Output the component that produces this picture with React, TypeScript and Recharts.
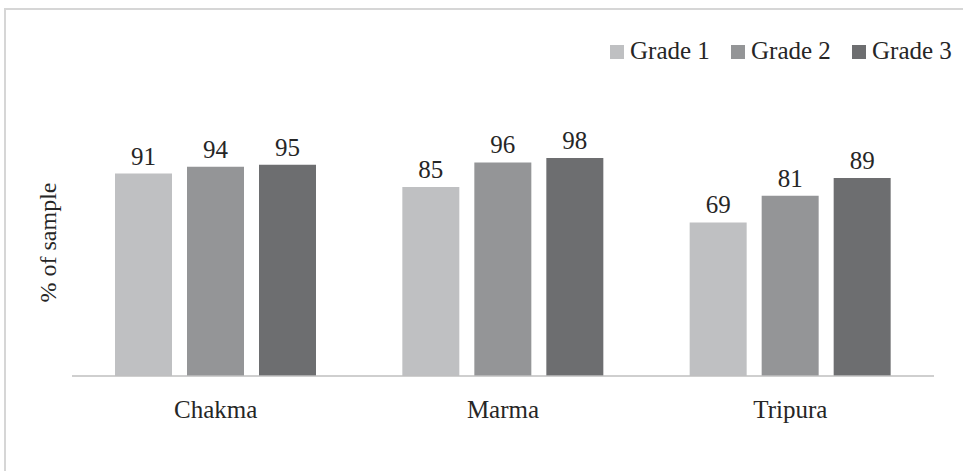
import React from 'react';
import { BarChart, Bar, XAxis, YAxis, Legend, LabelList } from 'recharts';

// Share of sample by ethnic group and grade
const groups = ['Chakma', 'Marma', 'Tripura'];
const grade1 = [91, 85, 69];
const grade2 = [94, 96, 81];
const grade3 = [95, 98, 89];
const seriesNames = ['Grade 1', 'Grade 2', 'Grade 3'];
const seriesColors = ['#bfc0c2', '#949597', '#6d6e70'];

const data = groups.map((g, i) => ({
  group: g,
  g1: grade1[i],
  g2: grade2[i],
  g3: grade3[i],
}));
const seriesKeys = ['g1', 'g2', 'g3'];

const FONT = "'Liberation Serif', 'Times New Roman', Tinos, 'DejaVu Serif', serif";
const TEXT = '#262626';

function LegendRow(props: any) {
  const payload = props.payload || [];
  return (
    <svg width={363} height={40} style={{ display: 'block', fontFamily: FONT }}>
      {payload.map((p: any, i: number) => {
        const x0 = 10 + i * 121;
        return (
          <g key={p.value}>
            <rect x={x0} y={15} width={14} height={14} fill={p.color} />
            <text x={x0 + 20} y={29} style={{ fontFamily: FONT }} fontSize={25} fill={TEXT}>
              {p.value}
            </text>
          </g>
        );
      })}
    </svg>
  );
}

function YTitle(props: any) {
  const vb = props.viewBox || { x: 0, y: 0, width: 0, height: 0 };
  const cx = 56;
  const cy = vb.y + vb.height / 2;
  return (
    <text
      x={cx}
      y={cy}
      transform={`rotate(-90 ${cx} ${cy})`}
      textAnchor="middle"
      style={{ fontFamily: FONT }}
      fontSize={24}
      fill={TEXT}
    >
      % of sample
    </text>
  );
}

export default function App() {
  return (
    <div
      style={{
        position: 'absolute',
        left: 0,
        top: 0,
        width: 963,
        height: 471,
        overflow: 'hidden',
        background: '#fff',
        fontFamily: FONT,
      }}
    >
      <div
        style={{
          position: 'absolute',
          left: 4,
          top: 8,
          width: 1000,
          height: 600,
          borderTop: '2px solid #d6d6d6',
          borderLeft: '2px solid #d6d6d6',
        }}
      />
      <div style={{ position: 'absolute', left: 0, top: 0, fontFamily: FONT }}>
        <BarChart
          width={963}
          height={471}
          data={data}
          margin={{ top: 109, right: 29, bottom: 55, left: 0 }}
          barGap={15}
          style={{ fontFamily: FONT }}
        >
          <XAxis
            dataKey="group"
            axisLine={{ stroke: '#bfbfbf', strokeWidth: 1.5 }}
            tickLine={false}
            tickSize={0}
            tickMargin={24}
            height={40}
            tick={{ fontSize: 25, fill: TEXT, style: { fontFamily: FONT } }}
          />
          <YAxis
            domain={[0, 120]}
            width={72}
            axisLine={false}
            tickLine={false}
            tick={false}
            label={{ content: <YTitle /> }}
          />
          <Legend
            layout="vertical"
            align="center"
            verticalAlign="middle"
            wrapperStyle={{ left: 600, top: 30, width: 363, height: 40 }}
            content={<LegendRow />}
          />
          {seriesKeys.map((k, i) => (
            <Bar
              key={k}
              dataKey={k}
              name={seriesNames[i]}
              fill={seriesColors[i]}
              barSize={57}
              isAnimationActive={false}
            >
              <LabelList
                dataKey={k}
                position="top"
                offset={9}
                fontSize={25}
                fill={TEXT}
                style={{ fontFamily: FONT }}
              />
            </Bar>
          ))}
        </BarChart>
      </div>
    </div>
  );
}
